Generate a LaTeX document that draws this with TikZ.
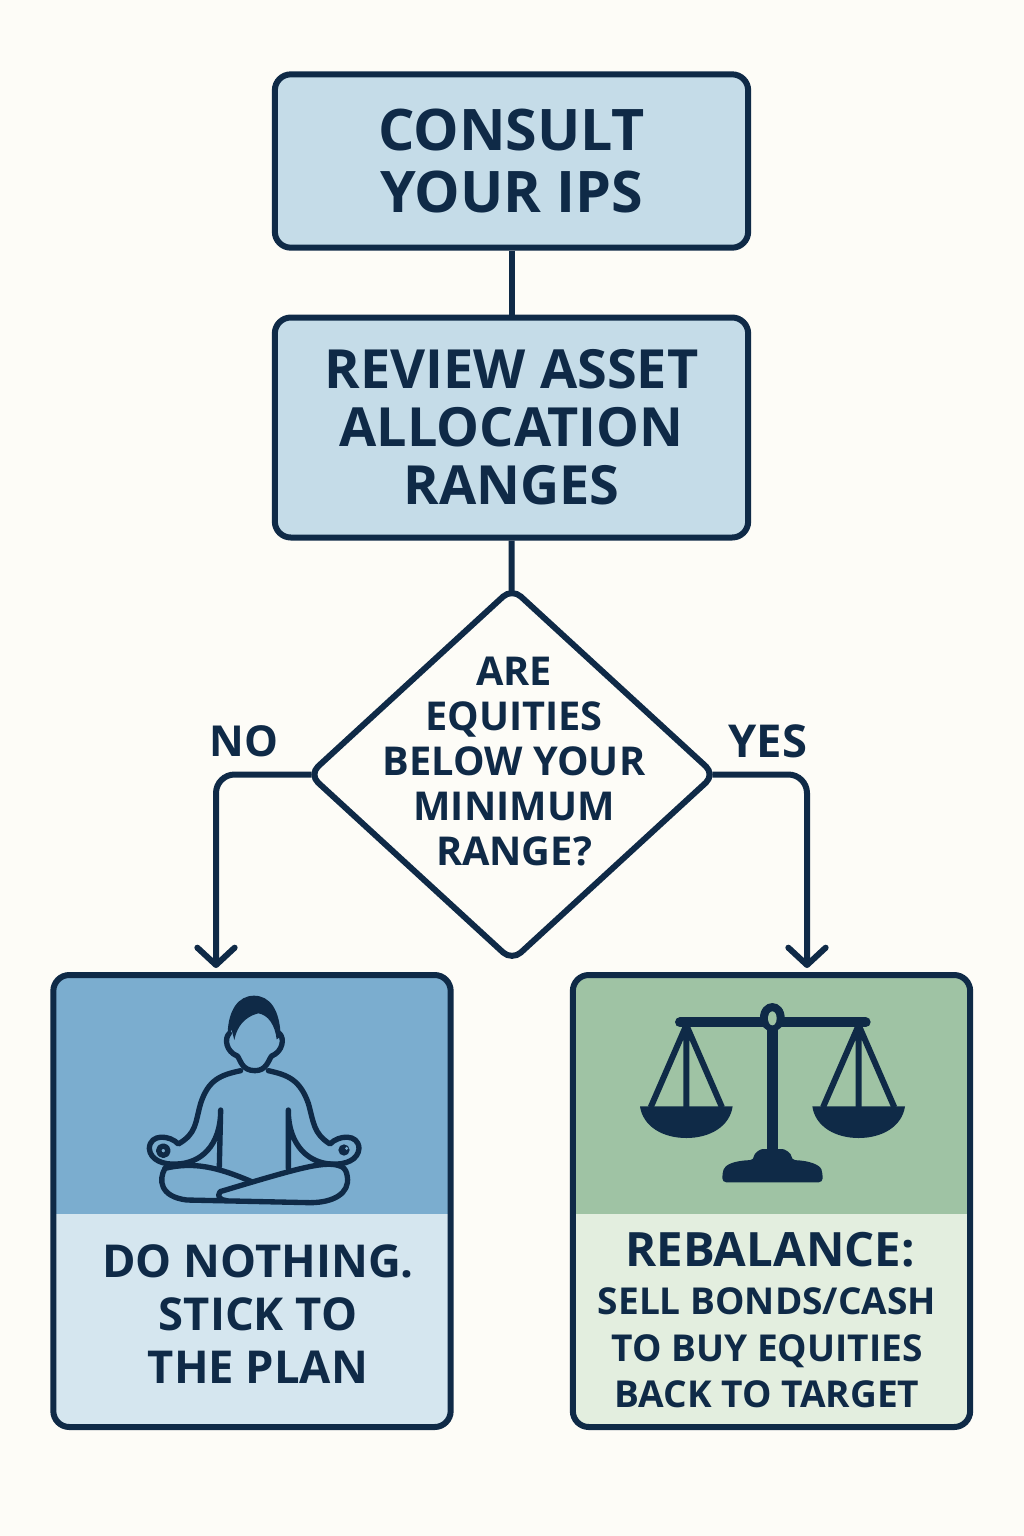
\documentclass[tikz,border=0pt]{standalone}
\usepackage{xcolor}
\usepackage{fontspec}
\setmainfont{Open Sans}
\usetikzlibrary{shapes.geometric, arrows.meta, positioning}

\definecolor{inkblue}{HTML}{0F2A47}
\definecolor{paper}{HTML}{FDFCF7}
\definecolor{paleblue}{HTML}{C5DCE8}
\definecolor{skyblue}{HTML}{7BADCF}
\definecolor{mistblue}{HTML}{D5E6EF}
\definecolor{sagegreen}{HTML}{9FC3A4}
\definecolor{mistgreen}{HTML}{E3EEDF}

\tikzset{
  stepbox/.style={rectangle, draw=inkblue, fill=paleblue, line width=4.5pt, rounded corners=12pt, minimum width=355pt, align=center, text=inkblue},
  choice/.style={diamond, draw=inkblue, fill=paper, line width=4.5pt, rounded corners=9pt, minimum width=306pt, minimum height=281pt, inner sep=0pt},
  card/.style 2 args={rectangle, draw=inkblue, fill=#2, line width=4.5pt, rounded corners=12pt, minimum width=298pt, minimum height=339pt,
    path picture={\fill[#1, sharp corners] (path picture bounding box.north west) rectangle ([yshift=-179.25pt]path picture bounding box.north east);}},
  label/.style={text=inkblue, align=center, font=\bfseries, inner sep=0pt},
  link/.style={draw=inkblue, line width=4.5pt},
  flow/.style={link, rounded corners=14pt, shorten <=-5pt, -{Straight Barb[length=13pt,width=28pt,line width=4.5pt,round]}},
}

\begin{document}
\begin{tikzpicture}[x=0.75pt, y=-0.75pt]
\useasboundingbox (0,0) rectangle (1024,1536);
\fill[paper] (0,0) rectangle (1024,1536);

% boxes
\node (consult) [stepbox, minimum height=130pt, font=\fontsize{43}{46.5}\selectfont\bfseries] at (511.5,161) {CONSULT\\YOUR IPS};
\node (review) [stepbox, minimum height=165pt, font=\fontsize{40.5}{43.5}\selectfont\bfseries] at (511.5,427.5) {REVIEW ASSET\\ALLOCATION\\RANGES};
\node (decide) [choice] at (512,774.5) {};
\node (decidetext) [label, font=\fontsize{29.8}{33.75}\selectfont\bfseries] at (514,762) {ARE\\EQUITIES\\BELOW YOUR\\MINIMUM\\RANGE?};

% outcome cards
\node (nothing) [card={skyblue}{mistblue}] at (252,1201) {};
\node (rebalance) [card={sagegreen}{mistgreen}] at (771.5,1201) {};
\node (nothingtext) [label, font=\fontsize{34}{40}\selectfont\bfseries] at (258,1314) {DO NOTHING.\\STICK TO\\THE PLAN};
\node (rebalancetitle) [label, font=\fontsize{35.5}{40}\selectfont\bfseries] at (770,1250) {REBALANCE:};
\node (rebalancetext) [label, font=\fontsize{27.8}{35}\selectfont\bfseries] at (767,1348) {SELL BONDS/CASH\\TO BUY EQUITIES\\BACK TO TARGET};

% branch labels
\node (nolabel) [label, font=\fontsize{32}{36}\selectfont\bfseries] at (244,741) {NO};
\node (yeslabel) [label, font=\fontsize{34}{36}\selectfont\bfseries] at (768,741) {YES};

\coordinate (noend) at (216,968);
\coordinate (yesend) at (807,968);

% connectors
\draw[link] (consult) -- (review);
\draw[link, shorten >=-5pt] (review) -- (decide);
\draw[flow] (decide.west) -| (noend);
\draw[flow] (decide.east) -| (yesend);

% meditating figure
\begin{scope}[shift={(130,980)}, x=0.25pt, y=-0.25pt, draw=inkblue, line width=4pt, line cap=round, line join=round]
\fill[inkblue] (293,160) .. controls (295,90) and (325,47) .. (372,47) .. controls (420,47) and (450,90) .. (452,170) -- (440,178) .. controls (435,135) and (415,105) .. (385,100) .. controls (365,105) and (325,120) .. (313,180) -- (305,150) -- cycle;
\draw (298,160) .. controls (282,175) and (288,215) .. (322,228) .. controls (332,240) and (335,272) .. (375,272) .. controls (410,272) and (415,240) .. (425,228) .. controls (458,215) and (465,175) .. (448,160);
\draw (332,272) .. controls (270,285) and (235,300) .. (212,370) .. controls (195,430) and (200,460) .. (145,492) .. controls (120,465) and (60,460) .. (58,505) .. controls (60,540) and (100,555) .. (140,552) .. controls (210,550) and (272,500) .. (272,390) -- (268,560);
\draw (415,272) .. controls (475,285) and (510,300) .. (535,370) .. controls (552,430) and (550,460) .. (600,492) .. controls (625,465) and (685,460) .. (687,505) .. controls (685,540) and (645,555) .. (605,552) .. controls (540,550) and (475,500) .. (475,390) -- (475,565);
\draw (105,565) .. controls (85,600) and (90,650) .. (170,660) -- (540,668) .. controls (610,668) and (660,640) .. (652,590) .. controls (650,575) and (645,565) .. (635,560) .. controls (590,540) and (520,560) .. (270,635) .. controls (260,650) and (270,660) .. (290,662);
\draw (105,565) .. controls (190,545) and (260,560) .. (365,605);
\draw (100,512) circle (14);
\fill[inkblue] (642,510) circle (17);
\fill[skyblue] (650,505) circle (5);
\end{scope}

% balance scale
\begin{scope}[shift={(630,990)}, x=0.25pt, y=-0.25pt, inkblue]
\draw[line width=7.5pt, line cap=round] (150,97) -- (707,97);
\draw[line width=8.5pt] (427,100) -- (427,490);
\fill (427,82) ellipse (37 and 43);
\fill (405,110) -- (449,110) -- (435,130) -- (419,130) -- cycle;
\fill[sagegreen] (427,85) ellipse (13 and 21);
\foreach \panx in {169,686} {
  \draw[line width=4.5pt] (\panx-2,110) -- (\panx-107,352) (\panx,110) -- (\panx,352) (\panx+2,110) -- (\panx+107,352);
  \fill (\panx-139,349) -- (\panx+139,349) .. controls (\panx+130,410) and (\panx+70,444) .. (\panx,444) .. controls (\panx-70,444) and (\panx-130,410) .. (\panx-139,349) -- cycle;
}
\fill[rounded corners=3pt] (277,577) -- (277,550) .. controls (285,525) and (310,512) .. (372,510) .. controls (372,490) and (390,477) .. (410,477) -- (445,477) .. controls (465,477) and (484,490) .. (484,510) .. controls (540,512) and (570,525) .. (578,550) -- (578,577) -- cycle;
\end{scope}
\end{tikzpicture}
\end{document}
